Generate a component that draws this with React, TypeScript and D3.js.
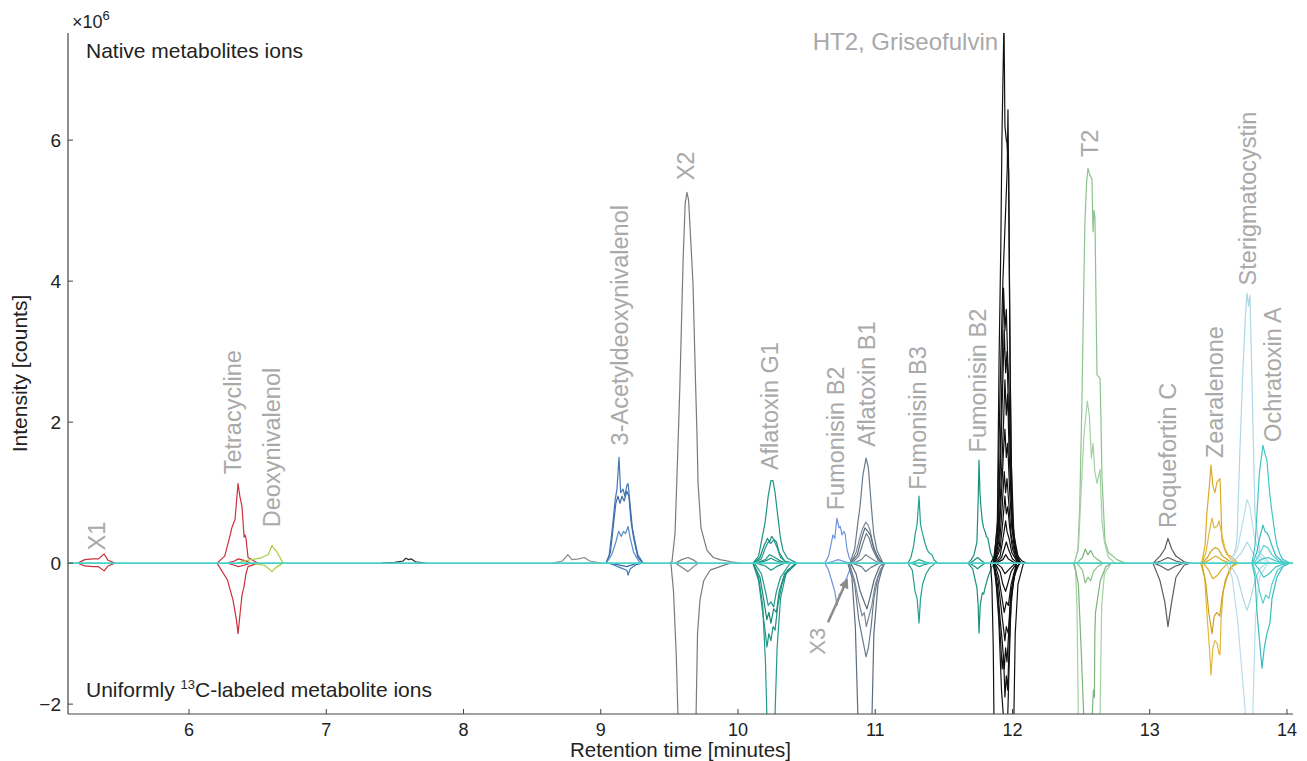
import React from 'react';
import * as d3 from 'd3';

type Pt = [number, number];

// axis ticks
const xTicks = [6, 7, 8, 9, 10, 11, 12, 13, 14];
const yTicks = [-2, 0, 2, 4, 6];

// traces, time [min] vs intensity [x10^6], negative = 13C labeled
const x1: Pt[][] = [
  [[5.19, 0], [5.24, 0.05], [5.3, 0.06], [5.34, 0.06], [5.381, 0.13], [5.41, 0.04], [5.46, 0]],
  [[5.19, 0], [5.24, -0.04], [5.3, -0.05], [5.34, -0.05], [5.381, -0.11], [5.41, -0.04], [5.46, 0]],
];
const tetracycline: Pt[][] = [
  [[6.204, 0], [6.26, 0.1], [6.3, 0.4], [6.313, 0.51], [6.335, 0.62], [6.357, 1.13], [6.37, 0.95], [6.386, 0.8], [6.401, 0.37], [6.408, 0.4], [6.415, 0.35], [6.43, 0.08], [6.5, 0]],
  [[6.204, 0], [6.28, -0.24], [6.32, -0.52], [6.345, -0.8], [6.357, -1.0], [6.37, -0.75], [6.386, -0.45], [6.4, -0.34], [6.415, -0.15], [6.43, -0.05], [6.5, 0]],
  [[6.28, 0], [6.33, 0.03], [6.36, 0.06], [6.4, 0.04], [6.45, 0]],
  [[6.28, 0], [6.33, -0.03], [6.36, -0.05], [6.4, -0.03], [6.45, 0]],
];
const deoxynivalenol: Pt[][] = [
  [[6.35, 0], [6.4, 0.03], [6.45, 0.05], [6.517, 0.07], [6.576, 0.12], [6.605, 0.25], [6.62, 0.2], [6.634, 0.18], [6.663, 0.08], [6.685, 0]],
  [[6.45, 0], [6.55, -0.03], [6.605, -0.12], [6.634, -0.06], [6.685, 0]],
];
const bump76: Pt[][] = [
  [[7.4, 0], [7.5, 0.01], [7.56, 0.03], [7.58, 0.07], [7.6, 0.05], [7.62, 0.06], [7.65, 0.02], [7.72, 0]],
];
const bump88: Pt[][] = [
  [[8.65, 0], [8.72, 0.03], [8.76, 0.12], [8.79, 0.05], [8.84, 0.06], [8.88, 0.08], [8.92, 0.03], [9.0, 0]],
];
const acetylDon: Pt[][] = [
  [[9.038, 0], [9.06, 0.1], [9.082, 0.45], [9.105, 0.9], [9.118, 1.05], [9.133, 1.5], [9.145, 1.0], [9.162, 1.05], [9.175, 0.95], [9.19, 1.1], [9.199, 1.13], [9.213, 0.85], [9.23, 0.5], [9.25, 0.3], [9.27, 0.12], [9.308, 0]],
  [[9.038, 0], [9.07, 0.15], [9.09, 0.5], [9.11, 0.85], [9.125, 0.95], [9.14, 0.85], [9.155, 0.95], [9.17, 0.88], [9.19, 1.02], [9.205, 0.95], [9.22, 0.6], [9.24, 0.35], [9.27, 0.08], [9.308, 0]],
  [[9.04, 0], [9.08, 0.12], [9.11, 0.3], [9.13, 0.45], [9.15, 0.38], [9.165, 0.45], [9.18, 0.42], [9.199, 0.52], [9.215, 0.35], [9.24, 0.15], [9.28, 0.02], [9.31, 0]],
  [[9.06, 0], [9.1, -0.03], [9.15, -0.07], [9.19, -0.1], [9.199, -0.17], [9.215, -0.08], [9.26, -0.02], [9.3, 0]],
  [[9.06, 0], [9.12, -0.02], [9.19, -0.05], [9.25, -0.01], [9.29, 0]],
];
const xTwo: Pt[][] = [
  [[9.5, 0], [9.519, 0.02], [9.541, 0.42], [9.56, 1.5], [9.577, 2.55], [9.6, 4.3], [9.615, 5.1], [9.628, 5.26], [9.64, 5.15], [9.655, 4.6], [9.672, 3.97], [9.69, 2.6], [9.701, 1.84], [9.709, 1.13], [9.73, 0.5], [9.774, 0.18], [9.82, 0.08], [9.869, 0.05], [9.95, 0.02], [10.015, 0]],
  [[9.511, 0], [9.53, -0.4], [9.55, -1.3], [9.563, -2.2], [9.628, -4.5], [9.694, -2.2], [9.705, -1.0], [9.723, -0.52], [9.75, -0.25], [9.796, -0.1], [9.942, 0]],
  [[9.545, 0], [9.59, 0.05], [9.635, 0.08], [9.67, 0.05], [9.71, 0]],
  [[9.545, 0], [9.59, -0.06], [9.635, -0.12], [9.67, -0.06], [9.71, 0]],
];
const aflatoxinG1: Pt[][] = [
  [[10.109, 0], [10.15, 0.1], [10.18, 0.4], [10.197, 0.57], [10.22, 0.95], [10.24, 1.17], [10.255, 1.17], [10.27, 1.0], [10.291, 0.65], [10.31, 0.35], [10.328, 0.18], [10.36, 0.07], [10.43, 0]],
  [[10.11, 0], [10.16, 0.08], [10.19, 0.25], [10.215, 0.35], [10.23, 0.3], [10.245, 0.38], [10.26, 0.34], [10.28, 0.3], [10.3, 0.15], [10.34, 0.03], [10.4, 0]],
  [[10.11, 0], [10.17, 0.06], [10.2, 0.22], [10.22, 0.3], [10.24, 0.28], [10.26, 0.33], [10.285, 0.22], [10.31, 0.08], [10.36, 0]],
  [[10.13, 0], [10.2, 0.05], [10.23, 0.12], [10.26, 0.09], [10.3, 0.04], [10.35, 0]],
  [[10.13, 0], [10.2, 0.03], [10.24, 0.07], [10.28, 0.03], [10.34, 0]],
  [[10.109, 0], [10.15, -0.2], [10.18, -0.6], [10.2, -1.4], [10.211, -2.2], [10.24, -3.2], [10.269, -2.2], [10.285, -1.2], [10.31, -0.5], [10.35, -0.15], [10.43, 0]],
  [[10.109, 0], [10.15, -0.25], [10.18, -0.7], [10.2, -1.0], [10.211, -1.19], [10.225, -1.0], [10.24, -1.1], [10.255, -0.9], [10.27, -0.95], [10.29, -0.6], [10.32, -0.3], [10.36, -0.1], [10.43, 0]],
  [[10.11, 0], [10.16, -0.2], [10.19, -0.55], [10.21, -0.8], [10.225, -0.7], [10.24, -0.85], [10.26, -0.65], [10.28, -0.7], [10.3, -0.4], [10.34, -0.15], [10.42, 0]],
  [[10.12, 0], [10.17, -0.15], [10.2, -0.4], [10.22, -0.6], [10.24, -0.55], [10.26, -0.62], [10.28, -0.4], [10.31, -0.2], [10.38, 0]],
  [[10.13, 0], [10.2, -0.04], [10.24, -0.1], [10.28, -0.05], [10.34, 0]],
];
const fumonisinB2a: Pt[][] = [
  [[10.634, 0], [10.66, 0.1], [10.692, 0.4], [10.705, 0.35], [10.721, 0.64], [10.736, 0.5], [10.745, 0.52], [10.758, 0.4], [10.77, 0.45], [10.78, 0.42], [10.794, 0.2], [10.81, 0.08], [10.831, 0]],
  [[10.634, 0], [10.66, -0.1], [10.69, -0.3], [10.705, -0.4], [10.721, -0.6], [10.73, -0.5], [10.74, -0.44], [10.758, -0.4], [10.77, -0.3], [10.794, -0.2], [10.831, 0]],
  [[10.65, 0], [10.7, 0.03], [10.73, 0.05], [10.78, 0.02], [10.82, 0]],
];
const aflatoxinB1: Pt[][] = [
  [[10.816, 0], [10.85, 0.2], [10.875, 0.6], [10.889, 0.8], [10.91, 1.25], [10.933, 1.49], [10.95, 1.35], [10.976, 0.7], [10.99, 0.4], [11.013, 0.18], [11.057, 0]],
  [[10.82, 0], [10.86, 0.15], [10.89, 0.38], [10.91, 0.5], [10.93, 0.58], [10.945, 0.55], [10.96, 0.48], [10.98, 0.3], [11.01, 0.1], [11.05, 0]],
  [[10.82, 0], [10.87, 0.12], [10.9, 0.35], [10.925, 0.5], [10.945, 0.45], [10.965, 0.4], [10.99, 0.2], [11.03, 0.05], [11.06, 0]],
  [[10.83, 0], [10.88, 0.1], [10.91, 0.28], [10.935, 0.42], [10.955, 0.36], [10.98, 0.2], [11.02, 0.04], [11.06, 0]],
  [[10.84, 0], [10.9, 0.05], [10.93, 0.12], [10.96, 0.08], [11.0, 0.03], [11.04, 0]],
  [[10.8, 0], [10.83, -0.2], [10.855, -0.9], [10.874, -2.2], [10.93, -3.2], [10.976, -2.2], [10.99, -1.0], [11.02, -0.3], [11.06, 0]],
  [[10.81, 0], [10.85, -0.3], [10.88, -0.8], [10.91, -1.1], [10.933, -1.33], [10.95, -1.2], [10.97, -0.9], [10.99, -0.5], [11.02, -0.2], [11.07, 0]],
  [[10.81, 0], [10.85, -0.25], [10.88, -0.55], [10.905, -0.75], [10.92, -0.7], [10.935, -0.9], [10.955, -0.75], [10.975, -0.6], [11.0, -0.3], [11.04, -0.08], [11.07, 0]],
  [[10.82, 0], [10.86, -0.15], [10.89, -0.4], [10.92, -0.55], [10.94, -0.65], [10.96, -0.5], [10.99, -0.25], [11.03, -0.05], [11.06, 0]],
  [[10.83, 0], [10.9, -0.05], [10.93, -0.12], [10.97, -0.06], [11.03, 0]],
];
const fumonisinB3: Pt[][] = [
  [[11.239, 0], [11.26, 0.08], [11.28, 0.25], [11.29, 0.4], [11.305, 0.55], [11.319, 0.95], [11.33, 0.55], [11.341, 0.45], [11.36, 0.3], [11.377, 0.2], [11.39, 0.15], [11.413, 0.12], [11.43, 0.04], [11.457, 0]],
  [[11.239, 0], [11.27, -0.1], [11.29, -0.4], [11.305, -0.5], [11.319, -0.85], [11.33, -0.5], [11.345, -0.3], [11.37, -0.15], [11.4, -0.06], [11.44, 0]],
  [[11.26, 0], [11.3, 0.03], [11.32, 0.05], [11.36, 0.02], [11.4, 0]],
  [[11.26, 0], [11.3, -0.03], [11.32, -0.05], [11.36, -0.02], [11.4, 0]],
];
const fumonisinB2b: Pt[][] = [
  [[11.676, 0], [11.7, 0.05], [11.72, 0.12], [11.741, 0.3], [11.75, 0.9], [11.756, 1.46], [11.763, 1.0], [11.77, 0.8], [11.78, 0.6], [11.79, 0.5], [11.8, 0.45], [11.81, 0.38], [11.821, 0.35], [11.84, 0.15], [11.873, 0]],
  [[11.676, 0], [11.71, -0.08], [11.741, -0.35], [11.75, -0.6], [11.756, -0.99], [11.765, -0.6], [11.78, -0.42], [11.79, -0.44], [11.8, -0.35], [11.821, -0.2], [11.85, -0.05], [11.873, 0]],
  [[11.69, 0], [11.72, 0.04], [11.745, 0.08], [11.77, 0.04], [11.8, 0]],
  [[11.69, 0], [11.72, -0.04], [11.745, -0.08], [11.77, -0.04], [11.8, 0]],
];
const ht2Griseofulvin: Pt[][] = [
  [[11.84, 0], [11.87, 0.1], [11.89, 0.6], [11.902, 2.84], [11.915, 4.5], [11.923, 6.0], [11.93, 6.8], [11.938, 7.7], [11.945, 6.2], [11.955, 6.0], [11.96, 5.96], [11.972, 5.57], [11.982, 2.84], [11.995, 1.0], [12.004, 0.47], [12.02, 0.2], [12.04, 0.1], [12.07, 0.03], [12.1, 0]],
  [[11.86, 0], [11.89, 0.5], [11.91, 2.5], [11.93, 4.0], [11.95, 5.0], [11.962, 5.6], [11.967, 6.43], [11.972, 5.5], [11.98, 3.5], [11.99, 1.5], [12.01, 0.4], [12.05, 0]],
  [[11.86, 0], [11.89, 0.3], [11.91, 1.5], [11.925, 2.8], [11.935, 3.9], [11.945, 3.3], [11.955, 3.6], [11.965, 2.9], [11.975, 2.5], [11.985, 1.6], [12.0, 0.5], [12.03, 0.1], [12.06, 0]],
  [[11.86, 0], [11.895, 0.4], [11.915, 1.6], [11.93, 2.6], [11.94, 3.3], [11.95, 2.7], [11.96, 3.0], [11.97, 2.2], [11.98, 1.8], [11.995, 0.7], [12.03, 0.1], [12.06, 0]],
  [[11.87, 0], [11.9, 0.4], [11.92, 1.3], [11.935, 2.0], [11.945, 2.6], [11.955, 2.1], [11.965, 2.4], [11.975, 1.6], [11.99, 0.9], [12.01, 0.3], [12.05, 0]],
  [[11.87, 0], [11.9, 0.3], [11.92, 1.0], [11.935, 1.6], [11.945, 1.9], [11.955, 1.5], [11.965, 1.7], [11.98, 1.0], [11.995, 0.5], [12.02, 0.15], [12.06, 0]],
  [[11.87, 0], [11.905, 0.25], [11.925, 0.8], [11.94, 1.3], [11.95, 1.0], [11.96, 1.2], [11.975, 0.8], [11.99, 0.4], [12.02, 0.1], [12.05, 0]],
  [[11.87, 0], [11.91, 0.2], [11.93, 0.6], [11.945, 0.95], [11.955, 0.7], [11.965, 0.8], [11.98, 0.5], [12.0, 0.2], [12.04, 0]],
  [[11.87, 0], [11.91, 0.1], [11.935, 0.4], [11.95, 0.6], [11.96, 0.45], [11.975, 0.35], [11.995, 0.15], [12.04, 0]],
  [[11.88, 0], [11.92, 0.08], [11.94, 0.2], [11.955, 0.3], [11.97, 0.2], [12.0, 0.06], [12.04, 0]],
  [[11.88, 0], [11.93, 0.05], [11.95, 0.12], [11.97, 0.06], [12.02, 0]],
  [[11.84, 0], [11.85, -0.3], [11.86, -1.2], [11.865, -2.2], [11.94, -5.0], [12.01, -2.2], [12.02, -1.0], [12.04, -0.3], [12.08, 0]],
  [[11.87, 0], [11.9, -0.8], [11.92, -1.8], [11.935, -2.2], [11.95, -2.8], [11.965, -2.2], [11.975, -1.5], [11.99, -0.5], [12.03, 0]],
  [[11.86, 0], [11.89, -0.4], [11.91, -1.0], [11.925, -1.5], [11.935, -1.3], [11.945, -1.9], [11.955, -1.6], [11.965, -1.8], [11.975, -1.2], [11.99, -0.6], [12.01, -0.2], [12.05, 0]],
  [[11.86, 0], [11.89, -0.3], [11.91, -0.8], [11.925, -1.1], [11.94, -1.5], [11.95, -1.2], [11.96, -1.4], [11.975, -0.9], [11.99, -0.4], [12.03, -0.05], [12.06, 0]],
  [[11.86, 0], [11.895, -0.25], [11.915, -0.6], [11.93, -0.85], [11.945, -1.1], [11.955, -0.9], [11.97, -1.0], [11.985, -0.5], [12.01, -0.15], [12.05, 0]],
  [[11.87, 0], [11.9, -0.2], [11.92, -0.45], [11.94, -0.7], [11.955, -0.55], [11.97, -0.6], [11.99, -0.3], [12.03, 0]],
  [[11.87, 0], [11.91, -0.12], [11.93, -0.3], [11.95, -0.4], [11.965, -0.3], [11.99, -0.12], [12.03, 0]],
  [[11.88, 0], [11.92, -0.06], [11.945, -0.15], [11.97, -0.1], [12.02, 0]],
];
const t2: Pt[][] = [
  [[12.44, 0], [12.455, 0.02], [12.477, 0.2], [12.49, 0.8], [12.506, 2.3], [12.52, 4.0], [12.528, 4.84], [12.54, 5.4], [12.55, 5.6], [12.565, 5.5], [12.579, 5.45], [12.587, 4.7], [12.594, 5.0], [12.601, 4.9], [12.61, 3.5], [12.616, 2.67], [12.638, 2.62], [12.645, 2.0], [12.652, 1.23], [12.674, 0.31], [12.7, 0.15], [12.761, 0.05], [12.82, 0]],
  [[12.45, 0], [12.48, 0.2], [12.5, 1.0], [12.52, 1.8], [12.545, 2.3], [12.56, 2.1], [12.575, 1.49], [12.587, 1.7], [12.6, 1.3], [12.616, 1.13], [12.638, 1.33], [12.652, 0.6], [12.67, 0.3], [12.7, 0.08], [12.75, 0]],
  [[12.47, 0], [12.51, 0.08], [12.53, 0.2], [12.55, 0.12], [12.57, 0.18], [12.59, 0.1], [12.62, 0.05], [12.66, 0]],
  [[12.47, 0], [12.51, -0.1], [12.53, -0.28], [12.55, -0.2], [12.57, -0.25], [12.59, -0.12], [12.62, -0.05], [12.66, 0]],
  [[12.44, 0], [12.46, -0.1], [12.47, -0.6], [12.48, -2.2], [12.55, -4.5], [12.638, -2.2], [12.65, -0.6], [12.67, -0.15], [12.72, 0]],
  [[12.45, 0], [12.48, -0.3], [12.5, -1.2], [12.52, -2.2], [12.55, -2.8], [12.58, -2.2], [12.59, -1.8], [12.597, -1.9], [12.6, -1.0], [12.605, -0.7], [12.62, -0.5], [12.64, -0.25], [12.68, -0.05], [12.72, 0]],
];
const roquefortinC: Pt[][] = [
  [[13.024, 0], [13.075, 0.1], [13.11, 0.2], [13.133, 0.35], [13.16, 0.2], [13.191, 0.1], [13.25, 0.02], [13.293, 0]],
  [[13.03, 0], [13.08, 0.03], [13.133, 0.08], [13.19, 0.03], [13.25, 0]],
  [[13.024, 0], [13.075, -0.25], [13.11, -0.55], [13.133, -0.9], [13.16, -0.55], [13.191, -0.2], [13.25, -0.03], [13.293, 0]],
  [[13.03, 0], [13.08, -0.04], [13.133, -0.1], [13.19, -0.04], [13.25, 0]],
];
const zearalenone: Pt[][] = [
  [[13.37, 0], [13.381, 0.02], [13.403, 0.25], [13.417, 0.72], [13.435, 1.1], [13.446, 1.39], [13.46, 1.1], [13.475, 1.0], [13.49, 1.15], [13.512, 1.2], [13.519, 0.8], [13.526, 0.33], [13.545, 0.2], [13.563, 0.12], [13.599, 0.09], [13.643, 0]],
  [[13.38, 0], [13.41, 0.15], [13.43, 0.4], [13.454, 0.64], [13.47, 0.5], [13.49, 0.52], [13.505, 0.6], [13.526, 0.4], [13.55, 0.2], [13.58, 0.08], [13.63, 0]],
  [[13.38, 0], [13.42, 0.08], [13.45, 0.18], [13.475, 0.22], [13.5, 0.2], [13.53, 0.1], [13.58, 0.03], [13.62, 0]],
  [[13.39, 0], [13.44, 0.05], [13.48, 0.1], [13.52, 0.05], [13.58, 0]],
  [[13.37, 0], [13.4, -0.2], [13.42, -0.8], [13.435, -1.2], [13.446, -1.59], [13.46, -1.2], [13.475, -1.1], [13.49, -1.13], [13.505, -1.28], [13.512, -1.3], [13.52, -0.8], [13.535, -0.4], [13.563, -0.2], [13.6, -0.05], [13.643, 0]],
  [[13.38, 0], [13.41, -0.3], [13.43, -0.7], [13.454, -1.0], [13.47, -0.75], [13.49, -0.7], [13.51, -0.75], [13.526, -0.5], [13.55, -0.25], [13.59, -0.05], [13.63, 0]],
  [[13.39, 0], [13.43, -0.1], [13.46, -0.22], [13.49, -0.18], [13.52, -0.1], [13.57, 0]],
];
const sterigmatocystin: Pt[][] = [
  [[13.56, 0], [13.585, 0.02], [13.62, 0.15], [13.636, 0.33], [13.658, 1.65], [13.68, 2.8], [13.7, 3.6], [13.709, 3.83], [13.72, 3.65], [13.73, 3.8], [13.745, 2.6], [13.767, 0.7], [13.803, 0.15], [13.876, 0]],
  [[13.58, 0], [13.64, 0.2], [13.68, 0.6], [13.709, 0.9], [13.73, 0.8], [13.76, 0.4], [13.8, 0.1], [13.86, 0]],
  [[13.6, 0], [13.67, 0.15], [13.71, 0.3], [13.75, 0.15], [13.82, 0]],
  [[13.56, 0], [13.6, -0.2], [13.64, -0.8], [13.7, -2.2], [13.73, -3.5], [13.75, -2.2], [13.77, -0.8], [13.8, -0.2], [13.86, 0]],
  [[13.58, 0], [13.64, -0.2], [13.68, -0.5], [13.709, -0.67], [13.73, -0.55], [13.76, -0.3], [13.8, -0.08], [13.85, 0]],
];
const ochratoxinA: Pt[][] = [
  [[13.745, 0], [13.767, 0.25], [13.782, 0.72], [13.8, 1.3], [13.825, 1.67], [13.84, 1.55], [13.854, 1.46], [13.865, 1.2], [13.876, 0.96], [13.891, 0.72], [13.91, 0.45], [13.927, 0.25], [13.95, 0.12], [13.971, 0.05], [14.022, 0]],
  [[13.75, 0], [13.78, 0.15], [13.8, 0.35], [13.825, 0.54], [13.84, 0.45], [13.854, 0.43], [13.868, 0.38], [13.89, 0.25], [13.92, 0.1], [13.97, 0.02], [14.02, 0]],
  [[13.76, 0], [13.8, 0.12], [13.83, 0.25], [13.86, 0.22], [13.89, 0.12], [13.94, 0.03], [14.0, 0]],
  [[13.77, 0], [13.82, 0.06], [13.86, 0.08], [13.92, 0.03], [14.0, 0]],
  [[13.745, 0], [13.767, -0.2], [13.782, -0.7], [13.8, -1.1], [13.818, -1.49], [13.835, -1.2], [13.854, -1.0], [13.876, -0.85], [13.891, -0.5], [13.927, -0.2], [13.97, -0.05], [14.02, 0]],
  [[13.75, 0], [13.78, -0.2], [13.8, -0.4], [13.825, -0.57], [13.845, -0.45], [13.868, -0.5], [13.89, -0.3], [13.93, -0.1], [14.0, 0]],
  [[13.76, 0], [13.8, -0.1], [13.83, -0.2], [13.87, -0.15], [13.92, -0.05], [14.0, 0]],
];
const baseline: Pt[] = [[5.1, 0], [14.1, 0]];

// peak labels: name, retention time, intensity where text starts
const peakNames = ['X1', 'Tetracycline', 'Deoxynivalenol', '3-Acetyldeoxynivalenol', 'X2', 'Aflatoxin G1', 'Fumonisin B2', 'Aflatoxin B1', 'Fumonisin B3', 'Fumonisin B2', 'T2', 'Roquefortin C', 'Zearalenone', 'Sterigmatocystin', 'Ochratoxin A'];
const peakTimes = [5.33, 6.32, 6.605, 9.14, 9.62, 10.233, 10.714, 10.94, 11.31, 11.75, 12.565, 13.133, 13.475, 13.716, 13.898];
const peakStarts = [0.18, 1.26, 0.51, 1.67, 5.43, 1.32, 0.75, 1.65, 1.04, 1.57, 5.76, 0.5, 1.49, 3.94, 1.72];

const x3Arrow: Pt[] = [[10.656, -0.84], [10.794, -0.24]];

const series = [
  { traces: x1, colors: ['#c9303c'] },
  { traces: tetracycline, colors: ['#c9303c'] },
  { traces: deoxynivalenol, colors: ['#a5cd39'] },
  { traces: bump76, colors: ['#2a2a2a'] },
  { traces: bump88, colors: ['#8a8a8a'] },
  { traces: acetylDon, colors: ['#4477b3', '#3d6ca8', '#5a8ac4'] },
  { traces: xTwo, colors: ['#7b7b7b'] },
  { traces: aflatoxinG1, colors: ['#1e9484', '#178a7b', '#23998a'] },
  { traces: fumonisinB2a, colors: ['#6d93e0'] },
  { traces: aflatoxinB1, colors: ['#687a8c', '#7a8898', '#5e6c7c'] },
  { traces: fumonisinB3, colors: ['#24a08f'] },
  { traces: fumonisinB2b, colors: ['#18907f'] },
  { traces: ht2Griseofulvin, colors: ['#111111'] },
  { traces: t2, colors: ['#8cc38c', '#a4d1a4', '#7ab57a'] },
  { traces: roquefortinC, colors: ['#5c5c5c'] },
  { traces: zearalenone, colors: ['#dcab25', '#e2b63a', '#cfa020'] },
  { traces: sterigmatocystin, colors: ['#acd8e6', '#b8dfeb'] },
  { traces: ochratoxinA, colors: ['#41c6c7', '#38bcbd', '#55cfd0'] },
];

const W = 1307;
const H = 761;
const L = 68, R = 1293, T = 33, B = 714;
const font = "'Liberation Sans', Arial, sans-serif";

export default function App() {
  const x = d3.scaleLinear().domain([5.118, 14.044]).range([L, R]);
  const y = d3.scaleLinear().domain([-2.14, 7.52]).range([B, T]);
  const line = d3.line<Pt>().x(d => x(d[0])).y(d => y(d[1]));

  return (
    <svg width={W} height={H} style={{ position: 'absolute', left: 0, top: 0, background: '#fff' }} fontFamily={font}>
      <defs>
        <clipPath id="plot"><rect x={L} y={T} width={R - L} height={B - T} /></clipPath>
        <marker id="arr" viewBox="0 0 10 10" refX="8" refY="5" markerWidth="4" markerHeight="4" orient="auto">
          <path d="M0,0 L10,5 L0,10 z" fill="#8c8c8c" />
        </marker>
      </defs>
      <g clipPath="url(#plot)" fill="none" strokeWidth={1.2} strokeLinejoin="round">
        {series.map((s, i) => s.traces.map((tr, j) => (
          <path key={i + '-' + j} d={line(tr) || ''} stroke={s.colors[j % s.colors.length]} />
        )))}
        <path d={line(baseline) || ''} stroke="#45d2c8" strokeWidth={1.8} />
      </g>
      <path d={line(x3Arrow) || ''} stroke="#8c8c8c" strokeWidth={2.5} fill="none" markerEnd="url(#arr)" />
      <text transform={`translate(${x(10.576) + 8},${y(-1.3)}) rotate(-90)`} fontSize={22} fill="#a9a9a9">X3</text>

      {peakNames.map((n, i) => (
        <text key={i} transform={`translate(${x(peakTimes[i]) + 8},${y(peakStarts[i])}) rotate(-90)`} fontSize={23.5} fill="#a9a9a9">{n}</text>
      ))}
      <text x={x(11.895)} y={y(7.28)} textAnchor="end" fontSize={24} fill="#a9a9a9">HT2, Griseofulvin</text>

      {/* axes */}
      <line x1={L} x2={L} y1={T} y2={B} stroke="#444" strokeWidth={1.2} />
      <line x1={L} x2={R} y1={B} y2={B} stroke="#444" strokeWidth={1.2} />
      {xTicks.map(t => (
        <g key={'x' + t}>
          <line x1={x(t)} x2={x(t)} y1={B} y2={B - 5} stroke="#444" />
          <text x={x(t)} y={B + 22} textAnchor="middle" fontSize={18} fill="#222">{t}</text>
        </g>
      ))}
      {yTicks.map(t => (
        <g key={'y' + t}>
          <line x1={L} x2={L + 5} y1={y(t)} y2={y(t)} stroke="#444" />
          <text x={L - 7} y={y(t) + 7} textAnchor="end" fontSize={19} fill="#222">{t < 0 ? '\u2212' + Math.abs(t) : t}</text>
        </g>
      ))}
      <text x={72} y={28} fontSize={18} fill="#222">×10<tspan dy={-8} fontSize={13}>6</tspan></text>
      <text x={x((5.118 + 14.044) / 2)} y={757} textAnchor="middle" fontSize={20.5} fill="#222">Retention time [minutes]</text>
      <text transform={`translate(27,${(T + B) / 2}) rotate(-90)`} textAnchor="middle" fontSize={21} fill="#222">Intensity [counts]</text>
      <text x={86} y={58} fontSize={21} fill="#222">Native metabolites ions</text>
      <text x={86} y={697} fontSize={21} fill="#222">Uniformly <tspan dy={-8} fontSize={13}>13</tspan><tspan dy={8}>C-labeled metabolite ions</tspan></text>
    </svg>
  );
}
